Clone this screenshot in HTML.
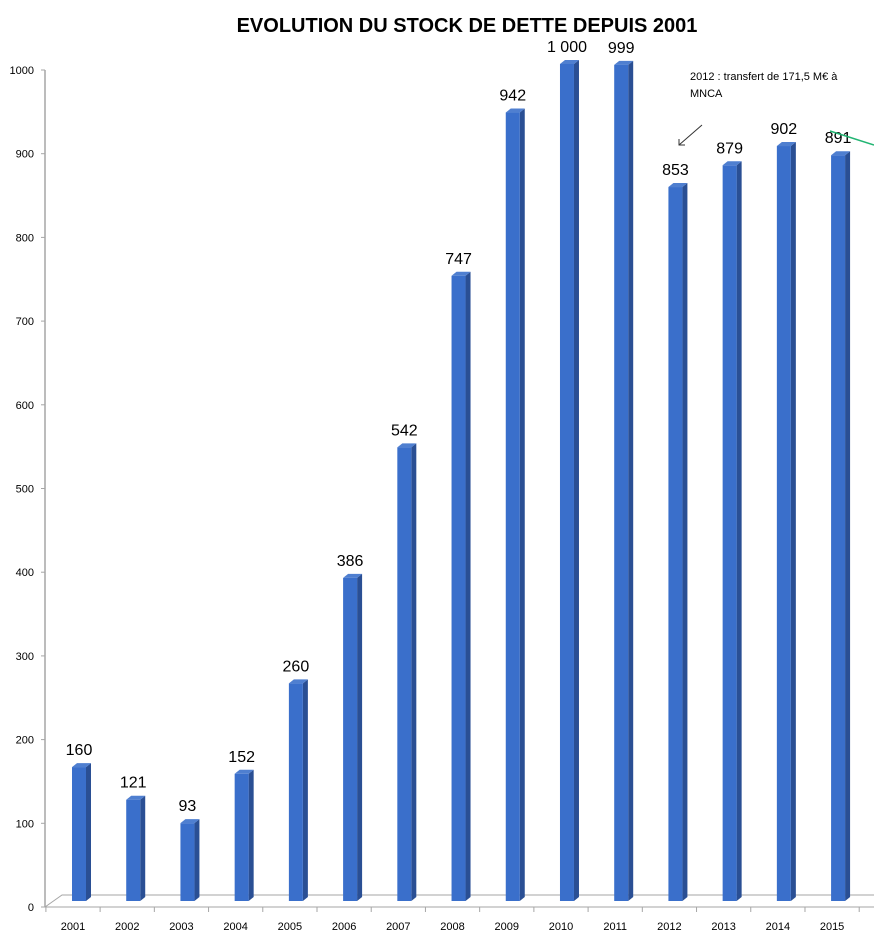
<!DOCTYPE html>
<html><head><meta charset="utf-8"><style>
html,body{margin:0;padding:0;background:#fff;width:874px;height:938px;overflow:hidden}
svg{display:block;font-family:"Liberation Sans",sans-serif}
</style></head><body>
<svg id="chart" width="874" height="938">
<text x="467" y="32" text-anchor="middle" font-size="20" font-weight="bold" fill="#000">EVOLUTION DU STOCK DE DETTE DEPUIS 2001</text>
<g id="axes"></g>
<g id="bars"></g>
<text x="690" y="80" font-size="11" fill="#000">2012 : transfert de 171,5 M€ à</text>
<text x="690" y="97" font-size="11" fill="#000">MNCA</text>
<line x1="702" y1="125" x2="679" y2="145" stroke="#333" stroke-width="1"/>
<polyline points="679,139 679,145 685,145" fill="none" stroke="#333" stroke-width="1"/>
<line x1="830" y1="131" x2="874" y2="145" stroke="#22b573" stroke-width="1.5"/>
</svg>
<script>
const categories=["2001","2002","2003","2004","2005","2006","2007","2008","2009","2010","2011","2012","2013","2014","2015"];
const values=[160,121,93,152,260,386,542,747,942,1000,999,853,879,902,891];
const valueLabels=["160","121","93","152","260","386","542","747","942","1 000","999","853","879","902","891"];
const yTicks=[0,100,200,300,400,500,600,700,800,900,1000];
const NS="http://www.w3.org/2000/svg";
function xc(i){return 73+i*54.22;}
function yAxis(v){return 907-v*0.837;}
function yBar(v){return 901-v*0.837;}
function mk(tag,attrs,parent){const e=document.createElementNS(NS,tag);for(const k in attrs)e.setAttribute(k,attrs[k]);parent.appendChild(e);return e;}
const ax=document.getElementById('axes');
let l=mk('line',{x1:45,y1:70,x2:45,y2:907,stroke:'#a6a6a6','stroke-width':1.5},ax);


l=mk('line',{x1:45,y1:907,x2:874,y2:907,stroke:'#a6a6a6','stroke-width':1},ax);


l=mk('polyline',{points:'45,907 62,895 874,895',fill:'none',stroke:'#a6a6a6','stroke-width':1},ax);


yTicks.forEach(v=>{
 const y=yAxis(v);
 const t=mk('line',{x1:41,y1:y,x2:45,y2:y,stroke:'#a6a6a6'},ax);
 
 
 const tx=mk('text',{x:34,y:y+4,'text-anchor':'end','font-size':11,fill:'#000'},ax);
 tx.textContent=v;
 
 
});
for(let i=0;i<=categories.length;i++){
 const x=xc(i)-27.1;
 const t=mk('line',{x1:x,y1:907,x2:x,y2:912,stroke:'#a6a6a6'},ax);
 
 
}
const bg=document.getElementById('bars');
categories.forEach((c,i)=>{
 const cx=xc(i)+6, left=cx-7, right=cx+7, top=yBar(values[i]), bot=901;
 const g=mk('g',{},bg);
 
 
 const side=mk('polygon',{points:`${right},${top} ${right+5},${top-4} ${right+5},${bot-4} ${right},${bot}`,fill:'#2a4f94'},g);
 
 
 const tp=mk('polygon',{points:`${left},${top} ${left+5},${top-4} ${right+5},${top-4} ${right},${top}`,fill:'#4f7fd0'},g);
 
 
 const f=mk('rect',{x:left,y:top,width:14,height:bot-top,fill:'#3a6fcb'},g);
 
 
 const vl=mk('text',{x:cx,y:top-12,'text-anchor':'middle','font-size':16,fill:'#000'},bg);
 vl.textContent=valueLabels[i];
 
 
 const xl=mk('text',{x:xc(i),y:930,'text-anchor':'middle','font-size':11,fill:'#000'},ax);
 xl.textContent=c;
 
 
});
</script>
</body></html>
